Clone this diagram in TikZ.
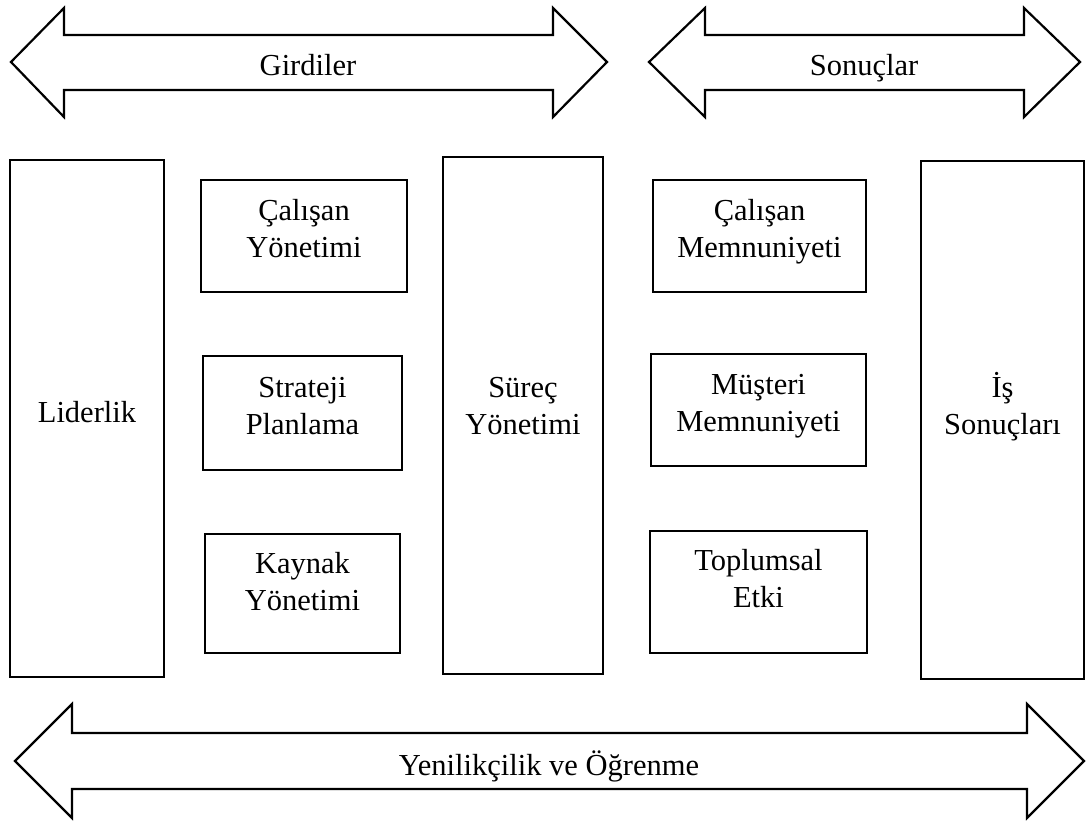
\documentclass[tikz,border=0pt]{standalone}
\usepackage{fontspec}
\setmainfont{Liberation Serif}
\begin{document}
\begin{tikzpicture}[x=1pt,y=-1pt,
  box/.style={draw, line width=2.8pt, inner sep=0pt},
  arr/.style={draw, line width=2.2pt, line join=miter},
  lbl/.style={font=\fontsize{30.5}{37}\selectfont, align=center, inner sep=0pt}]
\useasboundingbox (0,0) rectangle (1091,825);
% top arrows
\draw[arr] (11,62) -- (64,8) -- (64,35) -- (553,35) -- (553,8) -- (607,62) -- (553,117) -- (553,90) -- (64,90) -- (64,117) -- cycle;
\node[lbl, anchor=base] (girdi) at (308,75) {Girdiler};
\draw[arr] (649,62) -- (705,8) -- (705,35) -- (1024,35) -- (1024,8) -- (1080,62) -- (1024,117) -- (1024,90) -- (705,90) -- (705,117) -- cycle;
\node[lbl, anchor=base] (sonuc) at (864,75) {Sonuçlar};
% bottom arrow
\draw[arr] (15,761) -- (72,704) -- (72,733) -- (1027,733) -- (1027,704) -- (1084,761) -- (1027,818) -- (1027,789) -- (72,789) -- (72,818) -- cycle;
\node[lbl, anchor=base] (yeni) at (549,775) {Yenilikçilik ve Öğrenme};
% tall boxes
\node[box, minimum width=154, minimum height=517] (lid) at (87,418.5) {};
\node[lbl, anchor=base] (lidt) at (87,422) {Liderlik};
\node[box, minimum width=160, minimum height=517] (sur) at (523,415.5) {};
\node[lbl, anchor=north] (surt) at (523,371.1) {\strut Süreç\\\strut Yönetimi};
\node[box, minimum width=163, minimum height=518] (is) at (1002.5,420) {};
\node[lbl, anchor=north] (ist) at (1002.5,371.1) {\strut İş\\\strut Sonuçları};
% small boxes left
\node[box, minimum width=206, minimum height=112] (cy) at (304,236) {};
\node[lbl, anchor=north] (cyt) at (304,194.1) {\strut Çalışan\\\strut Yönetimi};
\node[box, minimum width=199, minimum height=114] (sp) at (302.5,413) {};
\node[lbl, anchor=north] (spt) at (302.5,371.1) {\strut Strateji\\\strut Planlama};
\node[box, minimum width=195, minimum height=119] (ky) at (302.5,593.5) {};
\node[lbl, anchor=north] (kyt) at (302.5,547.1) {\strut Kaynak\\\strut Yönetimi};
% small boxes right
\node[box, minimum width=213, minimum height=112] (cm) at (759.5,236) {};
\node[lbl, anchor=north] (cmt) at (759.5,194.1) {\strut Çalışan\\\strut Memnuniyeti};
\node[box, minimum width=215, minimum height=112] (mm) at (758.5,410) {};
\node[lbl, anchor=north] (mmt) at (758.5,368.1) {\strut Müşteri\\\strut Memnuniyeti};
\node[box, minimum width=217, minimum height=122] (te) at (758.5,592) {};
\node[lbl, anchor=north] (tet) at (758.5,544.1) {\strut Toplumsal\\\strut Etki};
\end{tikzpicture}
\end{document}
